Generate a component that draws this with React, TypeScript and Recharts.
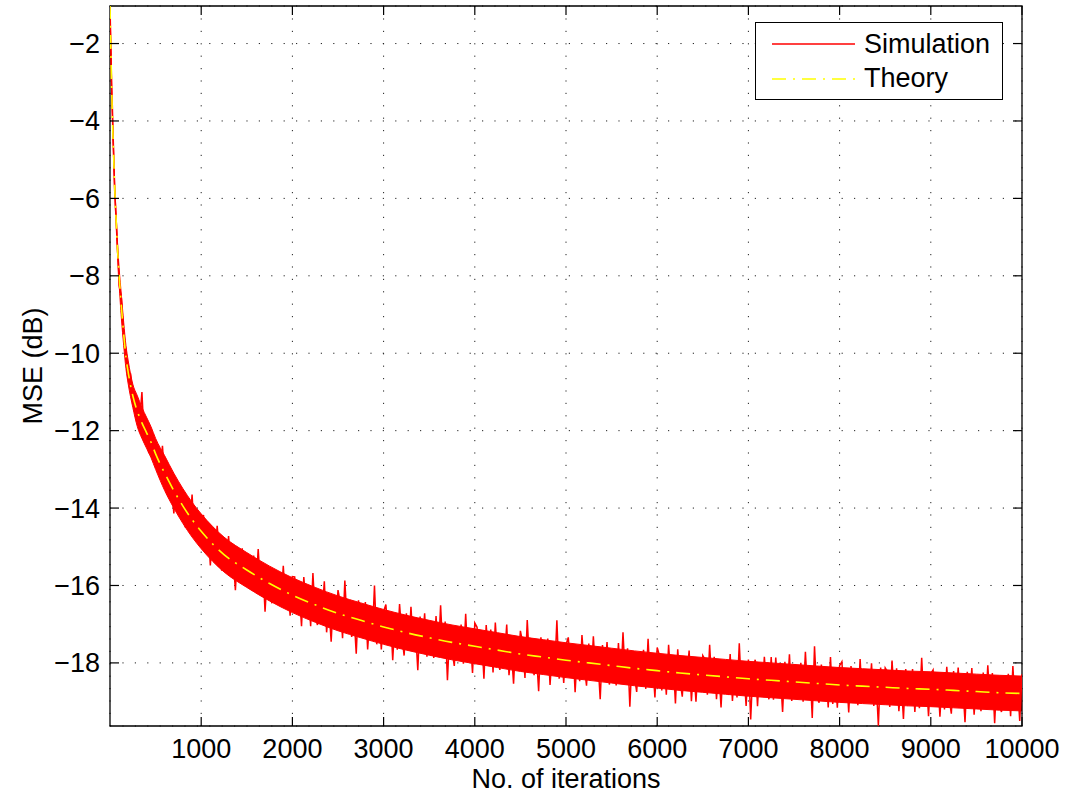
import { ComposedChart, Line, Area, XAxis, YAxis, CartesianGrid, ReferenceArea, Legend } from "recharts";

// MSE learning curve
const X_TICKS = [1000, 2000, 3000, 4000, 5000, 6000, 7000, 8000, 9000, 10000];
const Y_TICKS = [-18, -16, -14, -12, -10, -8, -6, -4, -2];

const THEORY_ITERS = [
    0, 10, 20, 30, 40, 50, 60, 70, 80, 90, 100, 125, 150, 175, 200, 250, 300, 350, 400, 450, 500,
    600, 700, 800, 900, 1000, 1250, 1500, 1750, 2000, 2250, 2500, 2750, 3000, 3250, 3500, 3750,
    4000, 4250, 4500, 4750, 5000, 5250, 5500, 5750, 6000, 6250, 6500, 6750, 7000, 7250, 7500,
    7750, 8000, 8250, 8500, 8750, 9000, 9250, 9500, 9750, 10000,
];
const THEORY_MSE = [
    -1.0, -2.2, -3.3, -4.2, -4.9, -5.6, -6.2, -6.7, -7.2, -7.6, -8.0, -8.8, -9.5, -10.1, -10.5, -11.1,
    -11.5, -11.8, -12.05, -12.3, -12.6, -13.1, -13.55, -13.95, -14.3, -14.6, -15.2, -15.6, -15.95,
    -16.25, -16.5, -16.72, -16.9, -17.07, -17.22, -17.35, -17.47, -17.57, -17.67, -17.77, -17.85,
    -17.93, -18.0, -18.07, -18.14, -18.2, -18.26, -18.31, -18.36, -18.41, -18.45, -18.49, -18.53,
    -18.57, -18.6, -18.63, -18.66, -18.68, -18.71, -18.74, -18.77, -18.79,
];

// dense core of the simulation trace (upper / lower edge), same iterations as THEORY_ITERS
const SIM_CORE_HIGH = [
    -1.0, -2.05, -3.15, -4.05, -4.75, -5.45, -6.05, -6.55, -7.05, -7.45, -7.8, -8.5, -9.2, -9.8,
    -10.2, -10.8, -11.1, -11.4, -11.65, -11.9, -12.2, -12.65, -13.1, -13.5, -13.85, -14.15, -14.75,
    -15.15, -15.5, -15.8, -16.05, -16.27, -16.45, -16.62, -16.77, -16.9, -17.02, -17.12, -17.22,
    -17.32, -17.4, -17.48, -17.55, -17.62, -17.69, -17.75, -17.81, -17.86, -17.91, -17.96, -18.0,
    -18.04, -18.08, -18.12, -18.15, -18.18, -18.21, -18.23, -18.26, -18.29, -18.32, -18.34,
];
const SIM_CORE_LOW = [
    -1.1, -2.35, -3.45, -4.35, -5.05, -5.75, -6.35, -6.85, -7.35, -7.75, -8.2, -9.1, -9.8, -10.4,
    -10.8, -11.4, -11.9, -12.2, -12.45, -12.7, -13.0, -13.55, -14.0, -14.4, -14.75, -15.05, -15.65,
    -16.05, -16.4, -16.7, -16.95, -17.17, -17.35, -17.52, -17.67, -17.8, -17.92, -18.02, -18.12,
    -18.22, -18.3, -18.38, -18.45, -18.52, -18.59, -18.65, -18.71, -18.76, -18.81, -18.86, -18.9,
    -18.94, -18.98, -19.02, -19.05, -19.08, -19.11, -19.13, -19.16, -19.19, -19.22, -19.24,
];

// simulation: first few samples, then one sample every 25 iterations (25..10000)
const SIM_HEAD_ITERS = [0, 5, 10, 15, 20];
const SIM_HEAD_MSE = [-1.05, -1.6, -2.2, -2.8, -3.3];
const SIM_STEP = 25;
const SIM_MSE = [
    -3.57, -5.74, -6.88, -8.25, -8.59, -9.54, -9.96, -10.71, -10.52, -11.2,
    -11.55, -11.35, -11.75, -11.0, -12.23, -12.0, -12.58, -12.1, -12.6, -12.3,
    -12.53, -13.24, -12.39, -13.23, -12.95, -13.66, -13.37, -14.14, -13.32, -14.01,
    -14.05, -13.62, -14.5, -14.0, -14.47, -13.65, -14.71, -14.25, -14.92, -14.34,
    -14.18, -14.88, -14.46, -15.48, -14.66, -15.36, -14.46, -15.16, -15.62, -14.8,
    -15.56, -14.72, -15.56, -15.28, -16.12, -15.04, -15.64, -15.04, -15.96, -15.44,
    -15.48, -16.07, -15.23, -16.06, -15.06, -16.05, -15.45, -16.68, -15.68, -16.11,
    -16.46, -15.69, -16.12, -15.67, -16.5, -15.49, -16.48, -16.03, -16.78, -15.77,
    -15.78, -16.7, -16.13, -17.05, -15.78, -16.5, -16.03, -17.05, -15.68, -16.8,
    -17.02, -16.24, -16.77, -15.89, -17.21, -16.53, -17.45, -16.28, -17.0, -16.12,
    -16.44, -17.36, -15.87, -16.99, -16.41, -17.33, -16.75, -17.76, -16.38, -17.3,
    -17.22, -16.43, -17.65, -16.77, -17.39, -16.0, -17.52, -16.74, -17.65, -16.67,
    -16.49, -17.3, -16.72, -17.93, -16.85, -17.66, -16.48, -17.29, -17.81, -16.72,
    -17.63, -16.55, -17.56, -17.17, -18.19, -16.8, -17.51, -16.72, -17.84, -17.15,
    -17.16, -17.87, -16.79, -17.8, -16.51, -17.72, -16.93, -18.45, -17.16, -17.67,
    -18.08, -17.09, -17.6, -17.01, -18.02, -16.73, -17.94, -17.35, -18.26, -16.97,
    -17.08, -17.99, -17.3, -18.41, -17.02, -17.83, -17.14, -18.25, -16.96, -17.87,
    -18.18, -17.39, -17.9, -17.01, -18.32, -17.63, -18.54, -17.35, -18.06, -17.17,
    -17.48, -18.39, -16.89, -18.0, -17.41, -18.32, -17.73, -18.73, -17.34, -18.25,
    -18.16, -17.37, -18.57, -17.68, -18.29, -16.9, -18.41, -17.61, -18.52, -17.53,
    -17.34, -18.14, -17.55, -18.76, -17.67, -18.47, -17.28, -18.09, -18.59, -17.5,
    -18.41, -17.31, -18.32, -17.93, -18.94, -17.54, -18.25, -17.46, -18.56, -17.87,
    -17.88, -18.58, -17.49, -18.5, -17.21, -18.41, -17.62, -19.13, -17.83, -18.34,
    -18.75, -17.75, -18.26, -17.66, -18.67, -17.38, -18.58, -17.99, -18.89, -17.6,
    -17.81, -18.71, -17.92, -18.82, -17.53, -18.44, -17.94, -19.05, -17.65, -18.46,
    -18.87, -17.87, -18.38, -17.68, -18.99, -18.09, -19.0, -18.0, -18.71, -17.81,
    -17.92, -18.82, -17.53, -18.63, -17.84, -18.94, -18.15, -19.15, -17.96, -18.66,
    -18.77, -17.77, -18.98, -18.08, -18.89, -17.49, -18.8, -18.2, -19.11, -17.91,
    -19.46, -18.12, -17.92, -19.12, -18.03, -18.83, -17.84, -18.64, -18.94, -17.85,
    -18.95, -17.86, -18.76, -18.26, -19.27, -17.97, -18.78, -17.78, -18.98, -18.19,
    -18.19, -18.9, -18.0, -19.0, -17.71, -18.81, -18.12, -19.42, -17.57, -18.83,
    -19.03, -18.04, -18.74, -18.14, -19.15, -17.85, -19.06, -18.26, -19.16, -18.07,
    -17.97, -18.88, -18.28, -19.28, -18.08, -18.79, -18.19, -19.09, -17.9, -19.0,
    -19.0, -18.21, -18.91, -18.01, -19.11, -18.42, -19.62, -18.12, -18.83, -18.13,
    -18.23, -19.14, -17.94, -18.94, -18.14, -19.25, -18.45, -19.45, -18.16, -19.06,
    -18.96, -18.16, -19.27, -18.37, -19.17, -17.87, -19.07, -18.38, -19.38, -18.28,
    -18.18, -18.99, -18.29, -19.39, -18.4, -19.2, -18.1, -18.9, -19.31, -18.21,
    -19.11, -18.12, -19.02, -18.52, -19.53, -18.23, -18.93, -18.13, -19.34, -18.44,
    -18.44, -19.25, -18.25, -19.15, -18.06, -19.06, -18.26, -19.56, -18.37, -19.07,
    -19.27, -18.37, -18.98, -18.28, -19.38, -18.08, -19.18, -18.49, -19.5, -18.29,
];

const X_DOMAIN = [0, 10000];
const Y_DOMAIN = [-19.63, -1.03];

const FONT = "'Liberation Sans', Arial, Helvetica, sans-serif";
const FONT_SIZE = 27;
const W = 1075;
const H = 803;
const PLOT = { left: 110, top: 6, right: 1022, bottom: 726 };
const TICK_LEN = 9;
const RED = "#ff0000";

const simData = [
    ...SIM_HEAD_ITERS.map((iter, i) => ({ iter, mse: SIM_HEAD_MSE[i] })),
    ...SIM_MSE.map((mse, i) => ({ iter: SIM_STEP * (i + 1), mse })),
];
const theoryData = THEORY_ITERS.map((iter, i) => ({ iter, mse: THEORY_MSE[i] }));
const coreData = THEORY_ITERS.map((iter, i) => ({ iter, core: [SIM_CORE_LOW[i], SIM_CORE_HIGH[i]] }));

const minus = (v: number) => String(v).replace("-", "\u2212");

const XTick = ({ x, payload }: any) => (
    <g>
        <line x1={x} x2={x} y1={PLOT.bottom} y2={PLOT.bottom - TICK_LEN} stroke="#000" strokeWidth={1.2} />
        <line x1={x} x2={x} y1={PLOT.top} y2={PLOT.top + TICK_LEN} stroke="#000" strokeWidth={1.2} />
        <text x={x} y={758} textAnchor="middle" fontFamily={FONT} fontSize={FONT_SIZE} fill="#000">
            {payload.value}
        </text>
    </g>
);

const YTick = ({ y, payload }: any) => (
    <g>
        <line x1={PLOT.left} x2={PLOT.left + TICK_LEN} y1={y} y2={y} stroke="#000" strokeWidth={1.2} />
        <line x1={PLOT.right} x2={PLOT.right - TICK_LEN} y1={y} y2={y} stroke="#000" strokeWidth={1.2} />
        <text x={100} y={y + 9.5} textAnchor="end" fontFamily={FONT} fontSize={FONT_SIZE} fill="#000">
            {minus(payload.value)}
        </text>
    </g>
);

const XLabel = ({ viewBox }: any) => (
    <text
        x={viewBox.x + viewBox.width / 2}
        y={788}
        textAnchor="middle"
        fontFamily={FONT}
        fontSize={FONT_SIZE}
        fill="#000"
    >
        No. of iterations
    </text>
);

const YLabel = ({ viewBox }: any) => {
    const cy = viewBox.y + viewBox.height / 2;
    return (
        <text
            x={42}
            y={cy}
            transform={`rotate(-90, 42, ${cy})`}
            textAnchor="middle"
            fontFamily={FONT}
            fontSize={FONT_SIZE}
            fill="#000"
        >
            MSE (dB)
        </text>
    );
};

const renderLegend = ({ payload }: any) => (
    <div
        style={{
            boxSizing: "border-box",
            width: 248,
            height: 78,
            border: "1.3px solid #000",
            background: "#fff",
        }}
    >
        <svg width={246} height={76} style={{ display: "block" }}>
            {(payload || [])
                .filter((entry: any) => entry.type !== "none")
                .map((entry: any, i: number) => (
                    <g key={entry.value}>
                        <line
                            x1={16}
                            x2={99}
                            y1={21 + i * 35}
                            y2={21 + i * 35}
                            stroke={entry.color}
                            strokeWidth={1.5}
                            strokeDasharray={entry.payload?.strokeDasharray}
                        />
                        <text x={108} y={30 + i * 34} fontFamily={FONT} fontSize={FONT_SIZE} fill="#000">
                            {entry.value}
                        </text>
                    </g>
                ))}
        </svg>
    </div>
);

export default function App() {
    return (
        <div style={{ width: W, height: H, background: "#fff" }}>
            <style>{`body { margin: 0; background: #fff; }`}</style>
            <ComposedChart
                width={W}
                height={H}
                margin={{ top: PLOT.top, right: W - PLOT.right, bottom: H - PLOT.bottom - 60, left: PLOT.left - 100 }}
            >
                <CartesianGrid stroke="#222" strokeDasharray="1.2 11.2" strokeWidth={1} />
                <XAxis
                    type="number"
                    dataKey="iter"
                    domain={X_DOMAIN}
                    ticks={X_TICKS}
                    allowDataOverflow
                    height={60}
                    tickLine={false}
                    axisLine={false}
                    tick={<XTick />}
                    label={<XLabel />}
                />
                <YAxis
                    type="number"
                    domain={Y_DOMAIN}
                    ticks={Y_TICKS}
                    allowDataOverflow
                    width={100}
                    tickLine={false}
                    axisLine={false}
                    tick={<YTick />}
                    label={<YLabel />}
                />
                <Area
                    data={coreData}
                    dataKey="core"
                    type="monotone"
                    stroke={RED}
                    strokeWidth={1}
                    fill={RED}
                    fillOpacity={1}
                    legendType="none"
                    dot={false}
                    activeDot={false}
                    isAnimationActive={false}
                />
                <Line
                    data={simData}
                    dataKey="mse"
                    name="Simulation"
                    type="linear"
                    stroke={RED}
                    strokeWidth={1.5}
                    dot={false}
                    activeDot={false}
                    isAnimationActive={false}
                />
                <Line
                    data={theoryData}
                    dataKey="mse"
                    name="Theory"
                    type="monotone"
                    stroke="#ffff00"
                    strokeWidth={1.6}
                    strokeDasharray="14 7 2 7"
                    dot={false}
                    activeDot={false}
                    isAnimationActive={false}
                />
                <ReferenceArea
                    x1={X_DOMAIN[0]}
                    x2={X_DOMAIN[1]}
                    y1={Y_DOMAIN[0]}
                    y2={Y_DOMAIN[1]}
                    fill="none"
                    fillOpacity={0}
                    stroke="#000"
                    strokeWidth={1.3}
                />
                <Legend
                    layout="horizontal"
                    verticalAlign="middle"
                    align="center"
                    content={renderLegend}
                    wrapperStyle={{ position: "absolute", left: 755, top: 22, width: 248, height: 78 }}
                />
            </ComposedChart>
        </div>
    );
}
